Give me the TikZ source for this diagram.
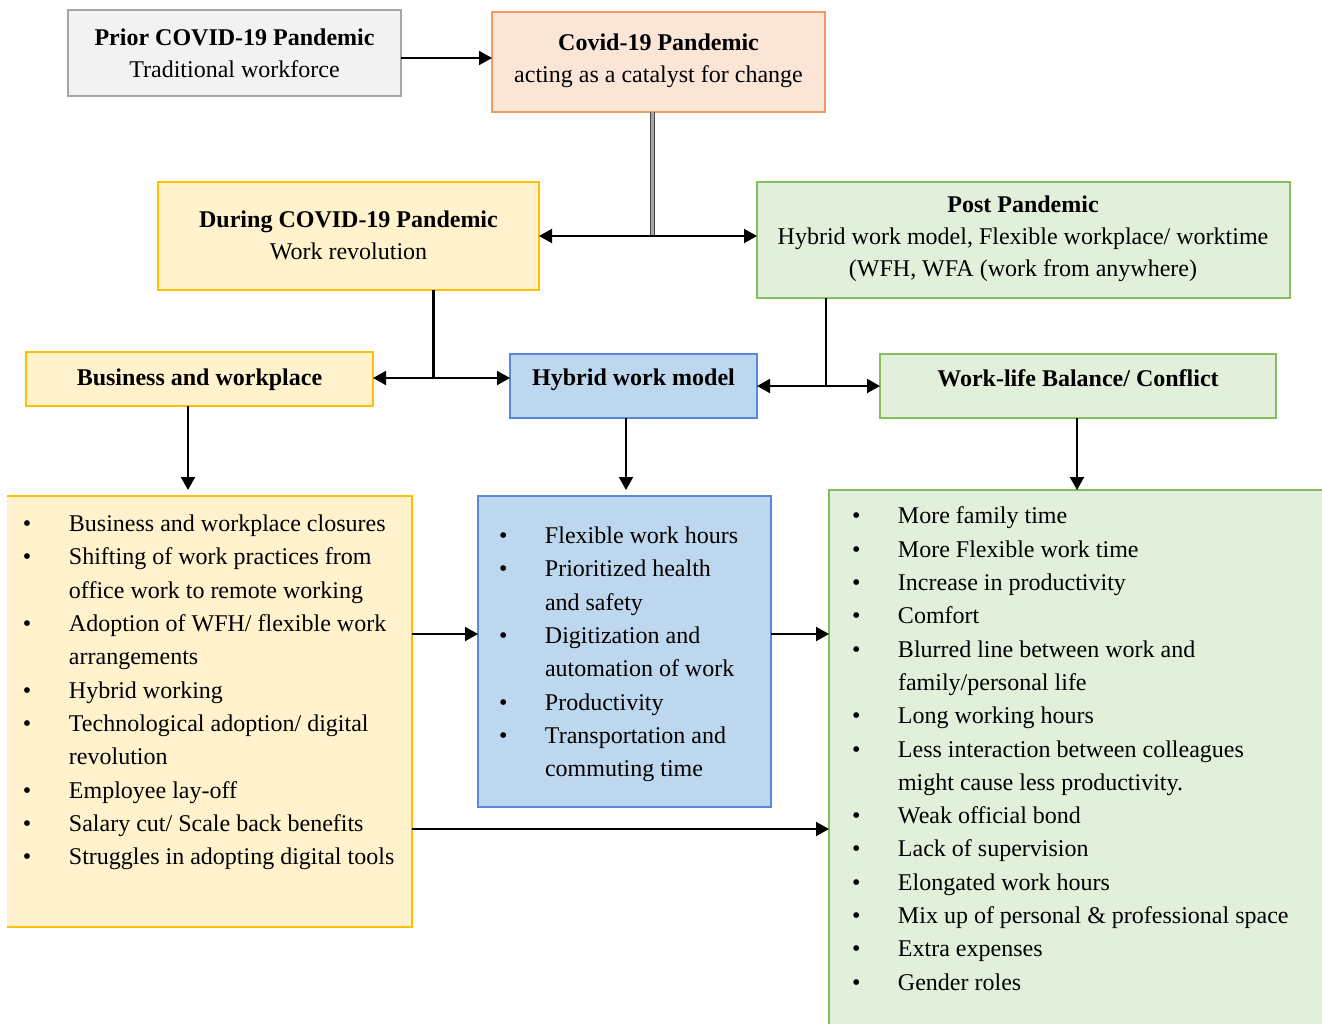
\documentclass[tikz,border=0pt]{standalone}
\usepackage{fontspec}
\setmainfont{Liberation Serif}
\usetikzlibrary{arrows.meta}
\definecolor{graybg}{HTML}{F2F2F2}
\definecolor{grayln}{HTML}{A6A6A6}
\definecolor{orgbg}{HTML}{FBE5D6}
\definecolor{orgln}{HTML}{F19A61}
\definecolor{ylwbg}{HTML}{FFF2CC}
\definecolor{ylwln}{HTML}{FFC000}
\definecolor{grnbg}{HTML}{E2EFDA}
\definecolor{grnln}{HTML}{86BE5E}
\definecolor{blubg}{HTML}{BDD7EE}
\definecolor{bluln}{HTML}{5A8AD6}
\newcommand{\bul}{\makebox[46pt][l]{\textbullet}}
\newcommand{\cnt}{\hspace*{46pt}}
\begin{document}
\begin{tikzpicture}[x=1pt,y=-1pt,
  every node/.style={inner sep=0pt, outer sep=0pt},
  box/.style={rectangle, line width=1.5pt, anchor=north west},
  gbox/.style={box, fill=graybg, draw=grayln},
  obox/.style={box, fill=orgbg, draw=orgln},
  ybox/.style={box, fill=ylwbg, draw=ylwln},
  grbox/.style={box, fill=grnbg, draw=grnln},
  bbox/.style={box, fill=blubg, draw=bluln},
  ttl/.style={font=\fontsize{24}{32}\selectfont, align=center},
  lst/.style={font=\fontsize{24}{33.3}\selectfont, align=left, anchor=north west},
  arr/.style={line width=2pt, -{Triangle[length=13pt,width=14pt]}},
  conn/.style={line width=2.2pt},
  dbl/.style={draw=gray!55!black, double=gray!70, double distance=2.8pt, line width=1.1pt},
]
\clip (0,0) rectangle (1322,1023);
\fill[white] (0,0) rectangle (1322,1023);

% boxes
\node[gbox, minimum width=333pt, minimum height=86pt] (prior) at (68,10) {};
\node[obox, minimum width=333pt, minimum height=100pt] (covid) at (492,12) {};
\node[ybox, minimum width=381pt, minimum height=108pt] (during) at (158,182) {};
\node[grbox, minimum width=533pt, minimum height=116pt] (post) at (757,182) {};
\node[ybox, minimum width=347pt, minimum height=54pt] (bus) at (26,352) {};
\node[bbox, minimum width=247pt, minimum height=64pt] (hyb) at (510,354) {};
\node[grbox, minimum width=396pt, minimum height=64pt] (wlb) at (880,354) {};
\node[box, fill=ylwbg, minimum width=405pt, minimum height=431pt] (lbox) at (7,496) {};
\draw[ylwln, line width=1.5pt] (lbox.north west) -- (lbox.north east) -- (lbox.south east) -- (lbox.south west);
\node[bbox, minimum width=293pt, minimum height=311pt] (mbox) at (478,496) {};
\node[grbox, minimum width=520pt, minimum height=560pt] (rbox) at (829,490) {};

% titles
\node[ttl] (priorT) at (234.5,53) {\textbf{Prior COVID-19 Pandemic}\\Traditional workforce};
\node[ttl] (covidT) at (658.5,61) {\textbf{Covid-19 Pandemic}\\acting as a catalyst for change};
\node[ttl] (duringT) at (348.5,235) {\textbf{During COVID-19 Pandemic}\\Work revolution};
\node[ttl] (postT) at (1023,239) {\textbf{Post Pandemic}\\Hybrid work model, Flexible workplace/ worktime\\(WFH, WFA (work from anywhere)};
\node[ttl] (busT) at (199.5,380) {\textbf{Business and workplace}};
\node[ttl] (hybT) at (633.5,380) {\textbf{Hybrid work model}};
\node[ttl] (wlbT) at (1078,378) {\textbf{Work-life Balance/ Conflict}};

% lists
\node[lst] (lT) at (23,515) {\bul Business and workplace closures\\
\bul Shifting of work practices from\\
\cnt office work to remote working\\
\bul Adoption of WFH/ flexible work\\
\cnt arrangements\\
\bul Hybrid working\\
\bul Technological adoption/ digital\\
\cnt revolution\\
\bul Employee lay-off\\
\bul Salary cut/ Scale back benefits\\
\bul Struggles in adopting digital tools};
\node[lst] (mT) at (499,527) {\bul Flexible work hours\\
\bul Prioritized health\\
\cnt and safety\\
\bul Digitization and\\
\cnt automation of work\\
\bul Productivity\\
\bul Transportation and\\
\cnt commuting time};
\node[lst] (rT) at (852,507) {\bul More family time\\
\bul More Flexible work time\\
\bul Increase in productivity\\
\bul Comfort\\
\bul Blurred line between work and\\
\cnt family/personal life\\
\bul Long working hours\\
\bul Less interaction between colleagues\\
\cnt might cause less productivity.\\
\bul Weak official bond\\
\bul Lack of supervision\\
\bul Elongated work hours\\
\bul Mix up of personal \& professional space\\
\bul Extra expenses\\
\bul Gender roles};

% connectors
\coordinate (p1) at ([yshift=-5pt]prior.east);
\draw[arr] (p1) -- (covid.west |- p1);

\coordinate (c1) at ([xshift=-6pt]covid.south);
\coordinate (j1) at (c1 |- during.east);
\draw[dbl] (c1) -- (j1);
\draw[arr] (j1) -- (during.east);
\draw[arr] (j1) -- (post.west |- j1);

\coordinate (d1) at ([xshift=84.5pt]during.south);
\coordinate (j2) at (433,378);
\draw[conn, line width=3pt] (d1) -- (d1 |- j2);
\draw[arr] (j2) -- (bus.east |- j2);
\draw[arr] (j2) -- (hyb.west |- j2);

\coordinate (q1) at ([xshift=-197.5pt]post.south);
\coordinate (j3) at (q1 |- 0,386);
\draw[conn] (q1) -- (j3);
\draw[arr] (j3) -- (hyb.east |- j3);
\draw[arr] (j3) -- (wlb.west |- j3);

\coordinate (b1) at ([xshift=-11.5pt]bus.south);
\draw[arr] (b1) -- (b1 |- rbox.north);
\coordinate (h1) at ([xshift=-7.5pt]hyb.south);
\draw[arr] (h1) -- (h1 |- rbox.north);
\coordinate (w1) at ([xshift=-1pt]wlb.south);
\draw[arr] (w1) -- (w1 |- rbox.north);

\coordinate (a1) at ([yshift=77.5pt]lbox.east);
\draw[arr] (a1) -- (mbox.west |- a1);
\coordinate (a2) at (mbox.east |- a1);
\draw[arr] (a2) -- (rbox.west |- a2);
\coordinate (a3) at ([yshift=-117.5pt]lbox.east);
\draw[arr] (a3) -- (rbox.west |- a3);
\end{tikzpicture}
\end{document}
